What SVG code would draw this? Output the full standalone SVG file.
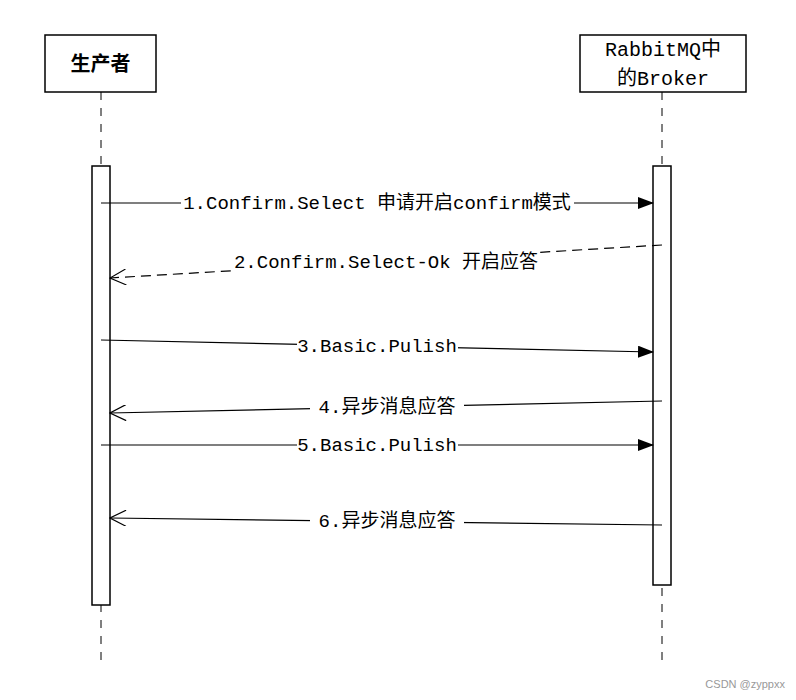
<svg xmlns="http://www.w3.org/2000/svg" width="796" height="700" viewBox="0 0 796 700">
<style>
.box{fill:#fff;stroke:#000;stroke-width:1.5}
.life{stroke:#000;stroke-width:1;stroke-dasharray:8,8;fill:none}
.msg{stroke:#000;stroke-width:1.2;fill:none}
.dash{stroke-dasharray:10,6}
.t{font-family:"Liberation Mono","Noto Sans CJK SC",monospace;font-size:20px;fill:#000}
.lbl{font-family:"Liberation Mono","Noto Sans CJK SC",monospace;font-size:19px;fill:#000}
.bg{fill:#fff}
</style>
<defs>
<marker id="fill" markerWidth="16" markerHeight="12" refX="15" refY="6" orient="auto" markerUnits="userSpaceOnUse"><path d="M0,0 L16,6 L0,12 Z" fill="#000"/></marker>
<marker id="open" markerWidth="18" markerHeight="16" refX="17" refY="8" orient="auto" markerUnits="userSpaceOnUse"><path d="M1,0 L17,8 L1,16" fill="none" stroke="#000" stroke-width="1.2"/></marker>
</defs>
<rect width="796" height="700" fill="#fff"/>
<g id="lifelines">
<line class="life" x1="101" y1="92" x2="101" y2="668"/>
<line class="life" x1="662" y1="92" x2="662" y2="668"/>
</g>
<g id="producer">
<rect class="box" x="45" y="35" width="111" height="57"/>
<text class="t" x="100.5" y="71" text-anchor="middle" font-weight="bold" font-size="22">生产者</text>
<rect class="box" x="92" y="166" width="18" height="439"/>
</g>
<g id="broker">
<rect class="box" x="580" y="35" width="166" height="57"/>
<text class="t" x="663" y="56" text-anchor="middle">RabbitMQ中</text>
<text class="t" x="663" y="85" text-anchor="middle">的Broker</text>
<rect class="box" x="653" y="166" width="18" height="419"/>
</g>
<g id="connectors">
<line class="msg" x1="101" y1="203" x2="653" y2="203" marker-end="url(#fill)"/>
<line class="msg dash" x1="662" y1="245" x2="110" y2="278" marker-end="url(#open)"/>
<line class="msg" x1="101" y1="340" x2="653" y2="352" marker-end="url(#fill)"/>
<line class="msg" x1="662" y1="401" x2="110" y2="413" marker-end="url(#open)"/>
<line class="msg" x1="101" y1="445" x2="653" y2="445" marker-end="url(#fill)"/>
<line class="msg" x1="662" y1="525" x2="110" y2="518" marker-end="url(#open)"/>
</g>
<g id="labels">
<rect class="bg" x="181" y="192" width="393" height="22"/>
<text class="lbl" x="377" y="209" text-anchor="middle">1.Confirm.Select 申请开启confirm模式</text>
<rect class="bg" x="233" y="251" width="306" height="22"/>
<text class="lbl" x="386" y="268" text-anchor="middle">2.Confirm.Select-Ok 开启应答</text>
<rect class="bg" x="297" y="335" width="161" height="22"/>
<text class="lbl" x="377" y="352" text-anchor="middle">3.Basic.Pulish</text>
<rect class="bg" x="310" y="396" width="154" height="22"/>
<text class="lbl" x="387" y="413" text-anchor="middle">4.异步消息应答</text>
<rect class="bg" x="297" y="434" width="161" height="22"/>
<text class="lbl" x="377" y="451" text-anchor="middle">5.Basic.Pulish</text>
<rect class="bg" x="310" y="510" width="154" height="22"/>
<text class="lbl" x="387" y="527" text-anchor="middle">6.异步消息应答</text>
</g>
<text x="785" y="688" text-anchor="end" font-family="Liberation Sans,sans-serif" font-size="11" fill="#999">CSDN @zyppxx</text>
</svg>
